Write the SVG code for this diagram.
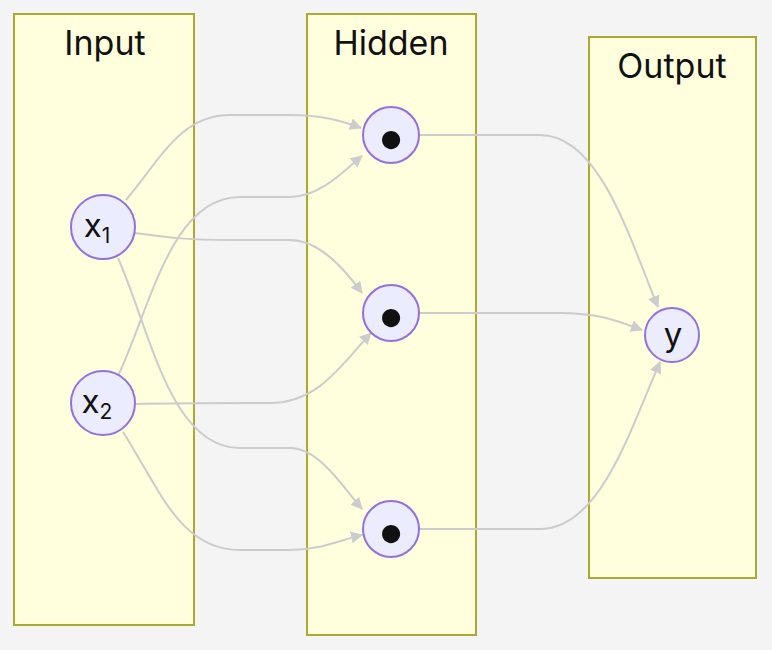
<svg xmlns="http://www.w3.org/2000/svg" width="772" height="650" viewBox="0 0 772 650">
<style>
.cl{fill:#ffffde;stroke:#aaaa33;stroke-width:2}
.nd{fill:#ececff;stroke:#9370db;stroke-width:2}
.t{font-family:Inter,"Liberation Sans",sans-serif;fill:#111;text-anchor:middle}
.ct{font-size:34px}
.nt{font-size:33px}
.bt{font-size:58px}
.e{fill:none;stroke:#cccccc;stroke-width:2}
</style>
<defs>
<marker id="ah" viewBox="0 0 12 12" refX="11" refY="6" markerWidth="12" markerHeight="12" markerUnits="userSpaceOnUse" orient="auto">
<path d="M0,0 L12,6 L0,12 Z" fill="#cccccc"/>
</marker>
</defs>
<rect width="772" height="650" fill="#f4f4f4"/>
<g id="cluster-input"><rect class="cl" x="14" y="14" width="180" height="611"/><text class="t ct" x="105" y="55">Input</text></g>
<g id="cluster-hidden"><rect class="cl" x="307" y="14" width="169" height="621"/><text class="t ct" x="391" y="55">Hidden</text></g>
<g id="cluster-output"><rect class="cl" x="589" y="37" width="167" height="541"/><text class="t ct" x="672" y="78">Output</text></g>
<g id="edges">
<path class="e" marker-end="url(#ah)" d="M126,200 C160,160 180,115 230,115 L290,115 C320,115 340,120 361,128"/>
<path class="e" marker-end="url(#ah)" d="M135,233 C170,238 190,240 230,240 L290,240 C320,240 345,270 362,293"/>
<path class="e" marker-end="url(#ah)" d="M118,258 C150,330 170,448 240,448 L290,448 C320,448 345,490 362,509"/>
<path class="e" marker-end="url(#ah)" d="M117,378 C150,310 170,197 240,197 L290,197 C320,197 345,170 362,156"/>
<path class="e" marker-end="url(#ah)" d="M136,404 C170,403 200,403 250,403 L270,403 C320,403 345,360 371,333"/>
<path class="e" marker-end="url(#ah)" d="M123,432 C160,490 180,550 240,550 L290,550 C320,550 340,540 362,535"/>
<path class="e" marker-end="url(#ah)" d="M419,135 L540,135 C600,135 630,240 658,307"/>
<path class="e" marker-end="url(#ah)" d="M419,313 L560,313 C600,313 620,322 642,330"/>
<path class="e" marker-end="url(#ah)" d="M419,529 L540,529 C600,529 630,430 660,362"/>
</g>
<g id="x1"><circle class="nd" cx="103" cy="227" r="32"/><text class="t nt" x="97" y="237">x<tspan font-size="21" dy="6">1</tspan></text></g>
<g id="x2"><circle class="nd" cx="103" cy="403" r="32"/><text class="t nt" x="97" y="413">x<tspan font-size="21" dy="6">2</tspan></text></g>
<g id="h1"><circle class="nd" cx="391" cy="135" r="28"/><text class="t bt" x="391" y="157">•</text></g>
<g id="h2"><circle class="nd" cx="391" cy="313" r="28"/><text class="t bt" x="391" y="335">•</text></g>
<g id="h3"><circle class="nd" cx="391" cy="529" r="28"/><text class="t bt" x="391" y="551">•</text></g>
<g id="y"><circle class="nd" cx="672" cy="335" r="27"/><text class="t nt" x="673" y="346">y</text></g>
</svg>
